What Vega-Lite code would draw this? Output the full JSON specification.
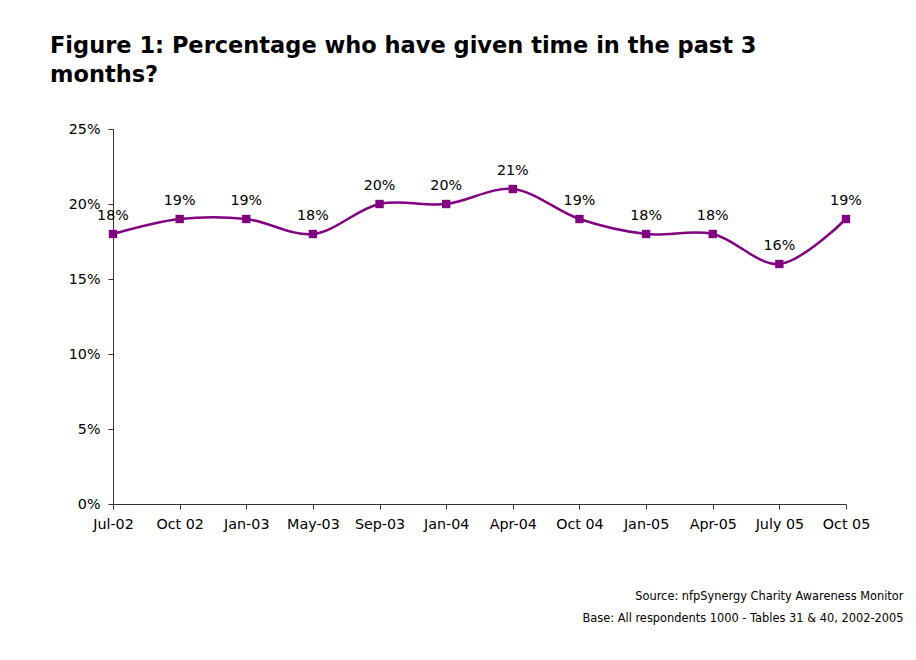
{
  "$schema": "https://vega.github.io/schema/vega-lite/v6.json",
  "width": 733,
  "height": 375,
  "autosize": {"type": "none"},
  "padding": {"left": 113, "top": 129, "right": 70, "bottom": 156},
  "background": "white",
  "config": {"view": {"stroke": null}, "font": "DejaVu Sans"},
  "title": {
    "text": ["Figure 1: Percentage who have given time in the past 3", "months?"],
    "anchor": "start",
    "frame": "group",
    "dx": -63,
    "offset": 36,
    "fontSize": 22.5,
    "font": "DejaVu Sans",
    "fontWeight": "bold",
    "color": "black",
    "lineHeight": 29
  },
  "data": {
    "values": [
      {"period": "Jul-02", "pct": 0.18},
      {"period": "Oct 02", "pct": 0.19},
      {"period": "Jan-03", "pct": 0.19},
      {"period": "May-03", "pct": 0.18},
      {"period": "Sep-03", "pct": 0.20},
      {"period": "Jan-04", "pct": 0.20},
      {"period": "Apr-04", "pct": 0.21},
      {"period": "Oct 04", "pct": 0.19},
      {"period": "Jan-05", "pct": 0.18},
      {"period": "Apr-05", "pct": 0.18},
      {"period": "July 05", "pct": 0.16},
      {"period": "Oct 05", "pct": 0.19}
    ]
  },
  "encoding": {
    "x": {
      "field": "period",
      "type": "ordinal",
      "sort": null,
      "scale": {"type": "point", "padding": 0},
      "axis": {
        "labelAngle": 0,
        "labelFont": "DejaVu Sans",
        "labelFontSize": 14.3,
        "labelColor": "black",
        "labelPadding": 8,
        "tickSize": 5,
        "tickColor": "#333333",
        "domainColor": "#333333",
        "grid": false,
        "title": ["Source: nfpSynergy Charity Awareness Monitor", "Base: All respondents 1000 - Tables 31 & 40, 2002-2005"],
        "titleFont": "DejaVu Sans",
        "titleFontSize": 11.4,
        "titleFontWeight": "normal",
        "titleColor": "black",
        "titleAlign": "right",
        "titleAnchor": null,
        "titleBaseline": "alphabetic",
        "titleLineHeight": 22,
        "titleX": 790,
        "titleY": 95
      }
    },
    "y": {
      "field": "pct",
      "type": "quantitative",
      "scale": {"domain": [0, 0.25], "nice": false},
      "axis": {
        "values": [0, 0.05, 0.1, 0.15, 0.2, 0.25],
        "format": ".0%",
        "title": null,
        "grid": false,
        "labelFont": "DejaVu Sans",
        "labelFontSize": 14.3,
        "labelColor": "black",
        "labelPadding": 8,
        "tickSize": 5,
        "tickColor": "#333333",
        "domainColor": "#333333"
      }
    }
  },
  "layer": [
    {"mark": {"type": "line", "interpolate": "catmull-rom", "color": "#800080", "strokeWidth": 2.5}},
    {"mark": {"type": "square", "color": "#800080", "opacity": 1, "size": 70, "filled": true}},
    {
      "mark": {"type": "text", "dy": -18, "fontSize": 14.3, "font": "DejaVu Sans", "color": "black"},
      "encoding": {"text": {"field": "pct", "type": "quantitative", "format": ".0%"}}
    }
  ]
}
